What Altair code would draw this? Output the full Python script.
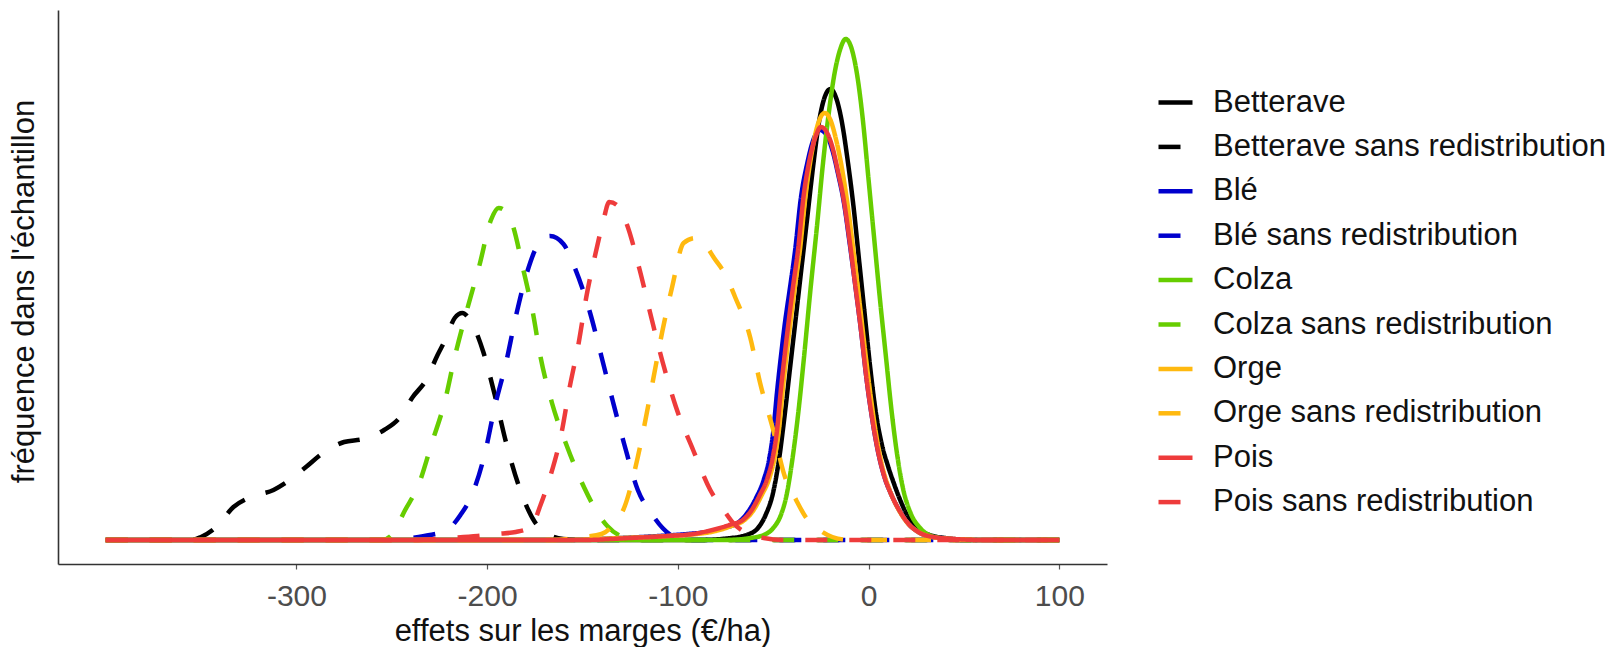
import altair as alt
import pandas as pd

series_names = ["Betterave", "Betterave sans redistribution", "Blé", "Blé sans redistribution",
                "Colza", "Colza sans redistribution", "Orge", "Orge sans redistribution",
                "Pois", "Pois sans redistribution"]
series_colors = ["#000000", "#000000", "#0000CD", "#0000CD", "#66CD00", "#66CD00",
                 "#FFB90F", "#FFB90F", "#EE3B3B", "#EE3B3B"]
series_dashes = [[1, 0], [22, 22], [1, 0], [22, 22], [1, 0], [22, 22],
                 [1, 0], [22, 22], [1, 0], [22, 22]]
x_ticks = [-300, -200, -100, 0, 100]

betterave_x = [-400, -90, -72, -64, -58, -54, -50, -47, -44, -41, -38, -35, -32, -29, -26, -23, -20, -17, -14, -11,
               -8, -5, -2, 1, 4, 7, 10, 13, 17, 21, 26, 32, 40, 50, 100]
betterave_y = [0, 0, 2, 5, 12, 25, 48, 80, 125, 175, 225, 275, 325, 375, 418, 443, 451, 442, 418, 380,
               335, 280, 225, 170, 125, 95, 75, 58, 38, 22, 11, 5, 2, 0, 0]

betterave_sr_x = [-400, -355, -350, -342, -333, -324, -312, -305, -295, -286, -275, -265, -254, -246, -239, -232,
                  -226, -222, -217, -213, -209, -202, -196, -190, -183, -175, -169, -160, -150, 100]
betterave_sr_y = [0, 0, 3, 13, 33, 43, 50, 58, 73, 87, 98, 101, 110, 122, 143, 160,
                  185, 200, 222, 227, 220, 188, 145, 97, 52, 18, 7, 1, 0, 0]

ble_x = [-400, -160, -130, -110, -95, -85, -76, -68, -64, -59, -55, -52, -50, -48, -46, -44, -41, -38.5, -35.5, -32,
         -29, -25.5, -22, -19, -16, -13, -10, -7, -4, -1, 2, 5, 8, 12, 16, 21, 27, 34, 45, 60, 100]
ble_y = [0, 0, 2, 4, 6, 8, 12, 18, 26, 42, 60, 82, 108, 148, 183, 215, 255, 290, 342, 378,
         400, 410, 405, 390, 366, 338, 298, 255, 210, 160, 120, 88, 65, 45, 30, 16, 7, 3, 1, 0, 0]

ble_sr_x = [-400, -250, -240, -230, -221, -214, -208, -201, -196, -190, -185, -179, -174, -167, -160, -154,
            -146, -140, -134, -128, -121, -114, -108, -102, -95, 100]
ble_sr_y = [0, 0, 2, 5, 10, 25, 45, 88, 133, 178, 223, 268, 293, 304, 296, 272,
            227, 183, 138, 95, 50, 27, 12, 3, 0, 0]

colza_x = [-400, -75, -62, -55, -50, -46, -43, -40, -37, -34, -30.5, -27, -24, -21, -18, -15, -12, -9, -6, -3,
           0, 3, 6, 9, 12, 15, 18, 22, 27, 33, 42, 55, 100]
colza_y = [0, 0, 2, 5, 12, 25, 45, 80, 125, 180, 250, 315, 375, 425, 465, 490, 501, 492, 465, 420,
           360, 300, 240, 185, 130, 85, 52, 27, 12, 4, 1, 0, 0]

colza_sr_x = [-400, -255, -250, -243, -236, -229, -222, -217, -211, -204, -198, -194, -190, -187, -181, -176,
              -172, -166, -158, -149, -143, -137, -130, -120, 100]
colza_sr_y = [0, 0, 5, 30, 55, 97, 140, 183, 227, 275, 320, 332, 328, 317, 270, 227,
              183, 137, 93, 52, 30, 14, 4, 0, 0]

orge_x = [-400, -160, -130, -105, -90, -80, -72, -65, -61, -56, -52, -49, -47, -45, -43, -41, -38.5, -36, -33, -30,
          -27, -23, -20, -17, -14, -11, -8, -5, -2, 1, 4, 7, 11, 15, 20, 26, 33, 45, 60, 100]
orge_y = [0, 0, 2, 4, 6, 9, 14, 20, 28, 45, 62, 85, 110, 150, 185, 217, 255, 290, 345, 385,
          413, 427, 420, 400, 372, 335, 290, 242, 192, 145, 105, 75, 50, 33, 18, 8, 3, 1, 0, 0]

orge_sr_x = [-400, -165, -150, -140, -134, -128, -121, -117, -113, -108, -103, -97, -91, -86, -81, -75,
             -70, -62, -57, -50, -44, -38, -33, -25, -19, -10, 100]
orge_sr_y = [0, 0, 3, 6, 15, 33, 83, 120, 160, 210, 253, 297, 302, 296, 282, 265,
             243, 202, 158, 110, 64, 40, 23, 9, 3, 0, 0]

pois_x = [-400, -150, -125, -105, -92, -82, -73, -66, -62, -57, -53, -50, -48, -46, -44, -42, -39.5, -37, -34, -31,
          -28, -25, -22, -19, -16, -13, -10, -7, -4, -1, 2, 5, 8, 12, 16, 21, 27, 34, 45, 60, 100]
pois_y = [0, 0, 2, 4, 6, 10, 15, 20, 28, 45, 62, 85, 110, 150, 185, 217, 255, 290, 345, 380,
          402, 413, 408, 393, 368, 340, 300, 255, 210, 160, 120, 88, 65, 45, 30, 16, 7, 3, 1, 0, 0]

pois_sr_x = [-400, -240, -220, -205, -195, -185, -177, -172, -167, -161, -157, -152, -148, -143, -139, -136,
             -132, -127, -120, -114, -108, -101, -92, -83, -76, -71, -64, -55, -45, 100]
pois_sr_y = [0, 0, 2, 4, 6, 8, 13, 35, 63, 107, 150, 197, 243, 288, 320, 338,
             335, 317, 270, 223, 178, 133, 90, 50, 30, 17, 7, 2, 0, 0]

series_data = [
    (betterave_x, betterave_y), (betterave_sr_x, betterave_sr_y),
    (ble_x, ble_y), (ble_sr_x, ble_sr_y),
    (colza_x, colza_y), (colza_sr_x, colza_sr_y),
    (orge_x, orge_y), (orge_sr_x, orge_sr_y),
    (pois_x, pois_y), (pois_sr_x, pois_sr_y),
]

rows = []
for name, (xs, ys) in zip(series_names, series_data):
    for xv, yv in zip(xs, ys):
        rows.append({"serie": name, "effet": xv, "freq": yv})
df = pd.DataFrame(rows)

FONT = "Liberation Sans"

legend_spec = alt.Legend(
    title=None, orient="none", legendX=1098, legendY=73,
    symbolType="stroke", symbolSize=1156, symbolStrokeWidth=4.5,
    labelFontSize=31, labelFont=FONT, labelColor="#111111",
    labelOffset=18, rowPadding=9.4, labelLimit=0, padding=0,
)

chart = alt.Chart(df).mark_line(strokeWidth=4.5, interpolate="monotone").encode(
    x=alt.X("effet:Q",
            scale=alt.Scale(domain=[-425, 125], nice=False, zero=False),
            axis=alt.Axis(values=x_ticks, title="effets sur les marges (€/ha)", grid=False,
                          labelExpr="'' + datum.value",
                          labelFontSize=30, labelFont=FONT, labelColor="#4D4D4D",
                          tickSize=5, tickColor="#555555", tickWidth=1.2, labelPadding=12,
                          domainColor="#333333", domainWidth=1.6,
                          titleFontSize=31, titleFont=FONT, titleFontWeight="normal", titleColor="#111111",
                          titleBaseline="alphabetic", titleY=76)),
    y=alt.Y("freq:Q",
            scale=alt.Scale(domain=[-24, 530], nice=False, zero=False),
            axis=alt.Axis(labels=False, ticks=False, grid=False, title="fréquence dans l'échantillon",
                          domainColor="#333333", domainWidth=1.6,
                          titleFontSize=31, titleFont=FONT, titleFontWeight="normal", titleColor="#111111",
                          titleBaseline="alphabetic", titleAngle=270, titleX=-25, titleY=281)),
    color=alt.Color("serie:N", scale=alt.Scale(domain=series_names, range=series_colors), legend=legend_spec),
    strokeDash=alt.StrokeDash("serie:N", scale=alt.Scale(domain=series_names, range=series_dashes),
                              legend=legend_spec),
).properties(
    width=1049, height=554,
    autosize=alt.AutoSizeParams(type="none"),
    padding={"left": 58, "top": 10, "right": 505, "bottom": 83},
    background="white",
).configure_view(stroke=None)

chart.save("out.html", embed_options={"renderer": "svg", "actions": False})
